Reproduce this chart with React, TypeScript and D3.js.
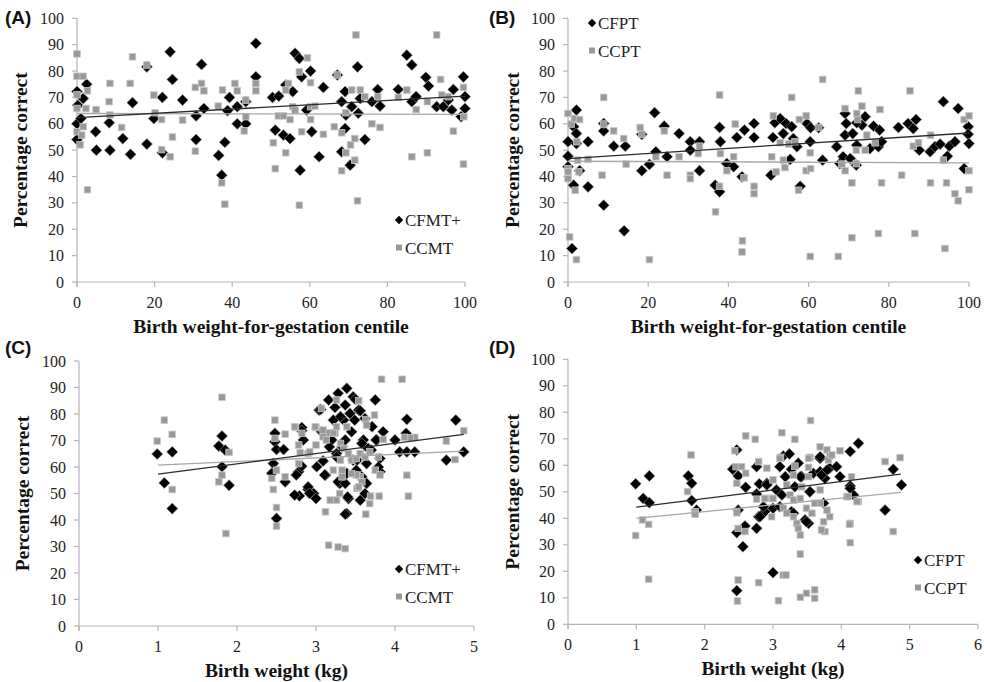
import React from "react";
import * as d3 from "d3";

// ---------- DATA ----------
const yTicks = [0, 10, 20, 30, 40, 50, 60, 70, 80, 90, 100];
const centileTicks = [0, 20, 40, 60, 80, 100];
const weightTicksC = [0, 1, 2, 3, 4, 5];
const weightTicksD = [0, 1, 2, 3, 4, 5, 6];

type P = [number, number];

const A_CFMT: P[] = [[0,72.2],[0.2,67],[0,60],[0,54],[1,62],[2.5,75],[1.6,69.6],[4.8,57],[5,50],[8.5,50],[8.3,60.4],[11.8,54.4],[14.3,68],[13.8,48.4],[18,52.3],[18,81.6],[19.8,62],[22,70],[22,49],[24,87.3],[24.6,76.8],[27.2,69],[30.7,63],[30.7,54],[32.1,82.5],[32.7,65.8],[36.5,48],[37.3,40.5],[38.1,53],[39.3,70],[38.8,65],[41.3,66.5],[41.3,60],[43.5,60],[43.5,68.4],[46.1,90.5],[46.1,77.8],[50.4,70],[51.1,57.6],[52,70.5],[53.2,55.7],[53.8,74.7],[54.9,54.4],[55.6,72.2],[56.2,86.7],[57.3,84.8],[57.5,42.4],[57.9,77.8],[59.2,65.2],[60.2,80],[60.5,57],[62.4,47.5],[63.5,73.8],[67.1,78.5],[68.2,68.4],[68.2,49.4],[69.1,72.2],[69.1,58.2],[69.3,63.3],[70.4,44.3],[70.8,66.5],[72.3,81.6],[72.5,64],[73,69.6],[74.2,54],[76,68.4],[77.5,73],[78.1,66.7],[82.8,73],[85,86],[86.3,82.3],[86.3,68.4],[87.4,70.3],[89.9,77.6],[90.6,74.3],[92.7,66.5],[94.4,66.5],[95.7,69],[96.6,65.2],[97,73],[99,62.7],[99.6,77.8],[100,70.3],[100,65.8]];

const A_CCMT: P[] = [[0,86.5],[0,78],[1.6,78],[0,71],[0,65.8],[0,57],[0.8,52],[1.2,55.7],[1.6,58.9],[2.3,65.8],[2.7,72.5],[2.7,35],[4.9,65.4],[8.5,75.3],[8.3,68.4],[8.5,63.3],[11.5,58.6],[14.3,85.4],[13.7,75.3],[18,82.3],[20.1,64.2],[19.8,70.9],[21.8,61.6],[21.8,50.2],[24,47.5],[24.6,55],[27.2,61.4],[30.5,73.8],[30.5,49.6],[32.1,75.3],[32.7,72.5],[36.4,66.7],[37.5,72.8],[37.3,37.6],[38.1,29.5],[40.7,75.3],[41.3,72.5],[43.5,69],[43.5,62.7],[43.1,57.3],[46.1,75.3],[46.1,72.5],[50.6,52.8],[51.1,43],[51.9,63],[53.2,63],[53.8,72.8],[54.5,75.3],[53.8,49],[54.9,61.6],[55.6,66.5],[56.2,65.2],[57.3,79.7],[57.3,29.1],[57.9,57],[59.4,85],[60.2,75.6],[60.2,66.5],[60.2,61.6],[61.3,66.7],[63.5,56],[66.3,58.9],[67.1,78.5],[68.2,56.6],[68.2,42.2],[69.3,49],[69.3,64.2],[70.5,52],[70.8,72.8],[71.9,93.7],[71.6,54.4],[71.6,46.2],[72.3,30.8],[73,72.8],[74.2,70.3],[76,60],[77.5,70.3],[78.1,58.6],[82.8,70],[85,72.8],[86.3,47.5],[87.4,65.4],[90.3,49],[90.3,68.4],[92.7,93.7],[93.7,76.8],[94,70.9],[97,57.2],[95.7,70.3],[99.6,73.8],[99.6,44.7],[99.7,62.7]];

const B_CFPT: P[] = [[0,53.2],[0,47.7],[0,43.7],[1,12.7],[2.1,65.2],[1.4,58.9],[2.1,56.3],[2.1,52.5],[1.4,36.7],[2.9,42.2],[5,53.2],[5,36.1],[8.9,57.3],[8.9,60.1],[8.9,29.1],[11.4,51.5],[14.3,51.5],[14,19.4],[18.4,42.2],[18.4,56],[20.3,44.6],[21.6,64.2],[21.9,49.4],[24,59.1],[24.7,47.5],[27.7,56.3],[30.5,53.2],[30.5,50],[32.8,53.2],[32.8,42.2],[36.7,36.7],[37.8,34.2],[37.8,58.6],[38,53.2],[39.6,44.9],[41.3,43.7],[42.1,54.8],[43.4,39.9],[44,57.6],[46.4,60.1],[46.4,54.8],[50.6,40.5],[51.1,54.8],[51.6,60.4],[52.9,62],[53.7,56.3],[54.4,60.1],[55.4,46.5],[55.8,58.9],[56.2,54.4],[57.1,51.3],[57.9,36.3],[59.6,60.1],[60.5,58.5],[60.4,53.2],[62.5,58.5],[63.5,46.2],[67,51.3],[67.8,44.9],[68.6,47.5],[69.1,63.9],[69.4,60.1],[69.1,55.7],[70.4,46.8],[71,56.3],[72,51.9],[71.9,44.3],[73.3,59.5],[72,60.4],[74.1,62.7],[75.3,50.6],[76.2,59.1],[77.4,51.3],[77.7,57.6],[78.2,53.2],[82.4,58.6],[84.8,60.1],[86.1,58.2],[86.8,61.6],[87.6,50],[90.3,49.4],[91.5,51.3],[92.8,52.3],[93.6,68.4],[94.6,47.7],[95.1,51.5],[96.5,53.2],[97.3,65.8],[98.8,43],[99.8,58.9],[99.8,56],[100,52.5]];

const B_CCPT: P[] = [[0,63.9],[0,43],[0,39.2],[0,41.8],[0.4,17.1],[0.8,59.9],[1.6,62],[2.1,8.5],[1.8,34.8],[2.2,53.2],[2.4,46.2],[2.9,61.6],[2.7,41.8],[5,46.5],[8.5,40.5],[8.9,70],[8.9,59.9],[11.4,57.3],[13.9,54.4],[14.5,44.7],[18,58.6],[18.4,56],[20.3,8.5],[21.9,47.5],[24,57.3],[24.7,40.5],[27.7,47.5],[30.5,40.5],[30.5,39.2],[32.8,51.5],[32.5,48.7],[36.8,26.6],[37.8,70.9],[37.8,36.3],[38,48.7],[39.6,42.2],[41.7,59.9],[41.3,47.5],[43.5,15.6],[43.4,11.4],[43.9,39.5],[46.4,36.3],[46.4,33.5],[50.8,47.5],[51.2,63],[51.9,41.8],[52.9,52.8],[53.7,46.2],[54.1,43.4],[55,52.3],[55.8,70],[56.6,53.2],[57.7,61.6],[57.5,34.8],[59.4,63],[59.4,42.2],[60.4,49],[60.5,43],[60.4,9.7],[62.5,58.6],[63.5,76.8],[67.4,9.7],[68.3,44.7],[69.1,65.8],[69.1,42.2],[70.8,37.6],[70.8,16.8],[71.9,44.9],[71.9,50],[72,63.9],[72.2,61.6],[72.4,72.5],[73.3,66.7],[74.1,50],[74.5,55.7],[76.6,52.8],[77.8,65.4],[78.2,37.6],[77.4,18.4],[83.2,40.5],[85.3,72.5],[86.1,51.5],[86.5,18.4],[87.4,52.8],[90.4,55.7],[90.4,37.6],[93.6,46.2],[94,12.7],[94.4,37.6],[96.5,33.5],[97.3,30.8],[98.8,61.6],[100,63],[100,42.2],[100,35]];

const C_CFMT: P[] = [[0.99,64.9],[1.08,54],[1.18,65.7],[1.18,44.3],[1.77,67.9],[1.81,71.7],[1.81,60.1],[1.85,66.4],[1.9,53.1],[2.48,72.7],[2.48,69.5],[2.5,66.6],[2.46,61.3],[2.44,57.6],[2.5,40.6],[2.59,66.6],[2.61,54.4],[2.78,58.2],[2.79,49.1],[2.82,74.9],[2.84,70.2],[2.82,60.3],[2.9,51.5],[2.97,50],[3.0,48.1],[3.01,60.1],[3.04,81.5],[3.07,73.3],[3.09,62.3],[3.12,56.9],[3.16,85.3],[3.2,70.2],[3.22,77.7],[3.24,82.5],[3.26,65.1],[3.28,87.8],[3.3,53.8],[3.33,67.6],[3.35,77.7],[3.37,83.4],[3.39,89.7],[3.41,48.1],[3.39,42.4],[3.39,57.6],[3.43,80.2],[3.45,73.3],[3.47,86.5],[3.49,77.7],[3.52,62.6],[3.54,81.5],[3.56,47.5],[3.58,56.3],[3.6,70.2],[3.62,50],[3.64,61.3],[3.66,67],[3.71,75.2],[3.75,85.3],[3.77,70.2],[3.81,63.2],[3.81,58.2],[3.85,73.3],[4.0,70.2],[4.06,65.7],[4.15,78],[4.14,72.7],[4.15,65.7],[4.25,65.7],[4.65,62.6],[4.77,77.7],[4.87,65.7],[3.5,85.5],[3.06,81.7],[3.56,81.2],[3.31,79],[3.62,78.3],[2.82,73.7],[3.11,57],[2.75,57],[2.73,49.4],[2.9,52.5],[2.92,50],[3.28,54.4],[3.37,53.8],[3.4,48.7],[3.37,42.2],[3.64,53.8],[3.76,70.2],[3.7,66.4],[3.26,63.8],[3.47,62.6],[3.51,58.8],[3.79,60],[3.17,67.6],[3.37,70.2],[3.58,68.9],[3.09,72.9]];

const C_CCMT: P[] = [[0.99,69.8],[1.08,77.7],[1.18,72.3],[1.18,51.5],[1.81,86.3],[1.77,54.4],[1.81,56.9],[1.9,65.5],[1.86,34.9],[2.48,77.7],[2.48,70.8],[2.46,51.5],[2.5,44.7],[2.5,37.7],[2.44,55.7],[2.5,58.8],[2.61,72.4],[2.61,56.3],[2.74,74.9],[2.78,68.3],[2.78,61.3],[2.8,65.4],[2.9,65.1],[3.0,74.9],[3.0,68.3],[3.07,82.1],[3.12,43.1],[3.16,30.5],[3.18,47.5],[3.24,72.7],[3.26,85.3],[3.28,29.8],[3.37,29.2],[3.83,93.1],[4.09,93.1],[4.15,56.9],[4.17,49],[4.25,71.2],[4.65,69.8],[4.76,62.8],[4.87,73.7],[4.19,71],[3.8,49],[3.68,46.2],[3.63,42.2],[3.69,49],[3.56,56.3],[3.52,51.9],[2.73,75.2],[2.82,72.7],[2.99,75.2],[3.09,73.9],[3.17,72.9],[3.22,72.9],[3.26,75.2],[3.09,71.4],[3.39,75.2],[3.54,85],[3.63,77.9],[3.64,75.8],[3.74,79.6],[3.85,70.4],[4.12,71.2],[3.26,47.5],[3.3,50],[2.92,65.7],[3.13,70.2],[3.31,68.9],[3.35,67],[3.41,65.1],[3.45,62.6],[3.31,62.6],[3.33,58.8],[3.33,56.3],[3.51,63.2],[3.56,65.1],[3.62,63.8],[3.68,65.7],[3.79,63.8],[3.75,58.8],[3.81,57],[3.51,57],[3.45,57.5],[3.58,54.4],[3.54,52.5],[3.22,58.8]];

const D_CFPT: P[] = [[0.99,53],[1.1,47.5],[1.19,56],[1.19,45.9],[1.76,56],[1.81,53.2],[1.81,46.7],[1.88,43.1],[2.47,65.8],[2.41,58.5],[2.49,56],[2.49,43.1],[2.47,34.6],[2.47,12.7],[2.56,29.3],[2.59,37.1],[2.6,51.7],[2.76,59.5],[2.76,36.2],[2.79,40.6],[2.8,53],[2.76,49.2],[2.91,53.2],[2.88,42.5],[3.0,19.5],[3.0,43.8],[3.05,50.7],[3.1,59.5],[3.15,63.5],[3.13,48.8],[3.18,55.7],[3.24,64.3],[3.27,58.5],[3.27,42.5],[3.32,51.9],[3.37,60.8],[3.42,55.7],[3.47,39.4],[3.52,38.1],[3.54,50.1],[3.59,57],[3.69,62.6],[3.69,57.6],[3.74,45.7],[3.76,55.1],[3.83,58.9],[3.93,59.5],[3.98,55.7],[4.13,52.2],[4.13,65.2],[4.18,48.8],[4.25,68.3],[4.64,43.1],[4.76,58.5],[4.88,52.6],[2.91,52.6],[2.81,40.6],[3.69,63.2],[4.13,51.3],[3.4,55.7],[3.54,50],[3.3,41.9],[3.49,38.7],[3.79,58.2],[3.71,56.3],[3.1,44.4],[2.86,44.4]];

const D_CCPT: P[] = [[0.99,33.5],[1.09,39.4],[1.18,37.7],[1.18,17],[1.75,50.1],[1.8,63.9],[1.86,42.5],[1.86,41.5],[2.44,65.5],[2.47,53.2],[2.47,42.1],[2.49,36.2],[2.49,16.7],[2.48,8.8],[2.46,59.5],[2.54,59.5],[2.6,71.1],[2.6,57],[2.59,35],[2.74,69.8],[2.79,61.4],[2.79,15.7],[2.76,47.2],[2.91,58.9],[2.91,47.5],[2.98,40.6],[2.99,47.5],[3.11,63],[3.13,72.3],[3.15,18.6],[3.19,18.6],[3.08,8.9],[3.32,69.8],[3.32,59.7],[3.4,10.2],[3.4,26.5],[3.4,33.7],[3.49,11.7],[3.54,63],[3.55,76.9],[3.61,13],[3.61,9.8],[3.69,67],[3.79,65.8],[3.83,63.5],[3.76,35],[3.98,65.5],[4.08,48.2],[4.13,38.1],[4.13,30.8],[4.15,55.7],[4.25,46.3],[4.64,61.4],[4.76,35],[4.86,62.9],[3.1,62.6],[3.52,62.6],[3.52,59.2],[3.3,56.3],[3.52,55.7],[3.81,62],[3.86,63.9],[3.0,54.5],[3.2,52.6],[3.42,51.9],[3.25,48.8],[2.88,47.5],[3.0,47.5],[3.3,46.9],[3.4,47.5],[3.69,50.7],[3.69,45.7],[3.61,45.7],[3.79,43.1],[3.83,40.6],[3.74,38.7],[3.71,35.6],[4.1,48.2],[4.23,46.3],[4.12,37.7],[3.15,43.8],[3.2,41.9],[3.3,40.6],[3.35,38.1],[3.37,36.2],[3.49,43.8],[3.57,41.9]];

// Trend lines: [x1, y1, x2, y2]
const A_trendFace = [0, 62.3, 100, 70.5];
const A_trendCar = [0, 63.9, 100, 63.6];
const B_trendFace = [0, 46.8, 100, 56.5];
const B_trendCar = [0, 45.8, 100, 45.2];
const C_trendFace = [1, 57.3, 4.87, 72.3];
const C_trendCar = [1, 60.7, 4.87, 66];
const D_trendFace = [1, 44.2, 4.87, 56.7];
const D_trendCar = [1, 40, 4.87, 49.8];

const labelsAC = ["CFMT+", "CCMT"];
const labelsBD = ["CFPT", "CCPT"];

// ---------- RENDER ----------
const SERIF = "'Liberation Serif', 'Times New Roman', serif";
const SANS = "'Liberation Sans', Arial, sans-serif";

type PanelProps = {
  tag: string;
  left: number; right: number; top: number; bottom: number;
  xMax: number; xTicks: number[];
  xTitle: string;
  face: P[]; car: P[];
  trendFace: number[]; trendCar: number[];
  labels: string[];
  legendX: number; legendY: number;
  tagX: number; tagY: number;
  yTitleX: number;
};

const diamond = (r: number) => `M0,${-r}L${r},0L0,${r}L${-r},0Z`;

function Panel(p: PanelProps) {
  const x = d3.scaleLinear().domain([0, p.xMax]).range([p.left, p.right]);
  const y = d3.scaleLinear().domain([0, 100]).range([p.bottom, p.top]);
  const line = d3.line<number[]>().x((d) => x(d[0])).y((d) => y(d[1]));
  const sq = 6.6;
  return (
    <g>
      <text x={p.tagX} y={p.tagY} fontFamily={SANS} fontWeight="bold" fontSize={19} fill="#111">{p.tag}</text>
      {/* axes */}
      <line x1={p.left} x2={p.left} y1={y(100)} y2={p.bottom + 5} stroke="#b5b5b5" strokeWidth={1.2} />
      <line x1={p.left} x2={p.right} y1={p.bottom} y2={p.bottom} stroke="#b5b5b5" strokeWidth={1.2} />
      {yTicks.map((t) => (
        <g key={"y" + t}>
          <line x1={p.left - 5} x2={p.left} y1={y(t)} y2={y(t)} stroke="#b5b5b5" strokeWidth={1.2} />
          <text x={p.left - 13} y={y(t)} dy="0.35em" textAnchor="end" fontFamily={SERIF} fontSize={16} fill="#222">{t}</text>
        </g>
      ))}
      {p.xTicks.map((t) => (
        <g key={"x" + t}>
          <line x1={x(t)} x2={x(t)} y1={p.bottom} y2={p.bottom + 5} stroke="#b5b5b5" strokeWidth={1.2} />
          <text x={x(t)} y={p.bottom + 26} textAnchor="middle" fontFamily={SERIF} fontSize={16} fill="#222">{t}</text>
        </g>
      ))}
      <text x={(p.left + p.right) / 2} y={p.bottom + 51} textAnchor="middle" fontFamily={SERIF} fontWeight="bold" fontSize={19.5} fill="#111">{p.xTitle}</text>
      <text transform={`translate(${p.yTitleX},${(p.top + p.bottom) / 2}) rotate(-90)`} textAnchor="middle" dy="0.33em" fontFamily={SERIF} fontWeight="bold" fontSize={19.5} fill="#111">Percentage correct</text>
      {/* markers */}
      {p.face.map((d, i) => (
        <path key={"f" + i} d={diamond(5.6)} transform={`translate(${x(d[0])},${y(d[1])})`} fill="#000" stroke="#9a9a9a" strokeWidth={0.6} />
      ))}
      {p.car.map((d, i) => (
        <rect key={"c" + i} x={x(d[0]) - sq / 2} y={y(d[1]) - sq / 2} width={sq} height={sq} fill="#999" stroke="#c8c8c8" strokeWidth={0.8} />
      ))}
      {/* trend lines */}
      <path d={line([[p.trendCar[0], p.trendCar[1]], [p.trendCar[2], p.trendCar[3]]]) || ""} stroke="#a8a8a8" strokeWidth={1.3} fill="none" />
      <path d={line([[p.trendFace[0], p.trendFace[1]], [p.trendFace[2], p.trendFace[3]]]) || ""} stroke="#2a2a2a" strokeWidth={1.3} fill="none" />
      {/* legend */}
      <path d={diamond(4.2)} transform={`translate(${p.legendX},${p.legendY})`} fill="#000" />
      <text x={p.legendX + 6} y={p.legendY + 6} fontFamily={SERIF} fontSize={17} fill="#222">{p.labels[0]}</text>
      <rect x={p.legendX - 3} y={p.legendY + 27.5 - 3} width={6} height={6} fill="#999" />
      <text x={p.legendX + 6} y={p.legendY + 33.5} fontFamily={SERIF} fontSize={17} fill="#222">{p.labels[1]}</text>
    </g>
  );
}

export default function App() {
  return (
    <svg width={984} height={682} style={{ position: "absolute", left: 0, top: 0, background: "#fff" }}>
      <rect width={984} height={682} fill="#fff" />
      <Panel tag="(A)" left={77} right={465} top={18.3} bottom={282} xMax={100} xTicks={centileTicks}
        xTitle="Birth weight-for-gestation  centile" face={A_CFMT} car={A_CCMT}
        trendFace={A_trendFace} trendCar={A_trendCar} labels={labelsAC}
        legendX={399} legendY={220} tagX={5} tagY={24} yTitleX={21} />
      <Panel tag="(B)" left={568} right={969} top={18.3} bottom={282} xMax={100} xTicks={centileTicks}
        xTitle="Birth weight-for-gestation  centile" face={B_CFPT} car={B_CCPT}
        trendFace={B_trendFace} trendCar={B_trendCar} labels={labelsBD}
        legendX={592} legendY={23} tagX={489} tagY={24} yTitleX={513} />
      <Panel tag="(C)" left={79} right={474} top={361} bottom={626} xMax={5} xTicks={weightTicksC}
        xTitle="Birth weight (kg)" face={C_CFMT} car={C_CCMT}
        trendFace={C_trendFace} trendCar={C_trendCar} labels={labelsAC}
        legendX={399} legendY={569} tagX={5} tagY={354} yTitleX={23} />
      <Panel tag="(D)" left={568} right={978} top={359.3} bottom={624.3} xMax={6} xTicks={weightTicksD}
        xTitle="Birth weight (kg)" face={D_CFPT} car={D_CCPT}
        trendFace={D_trendFace} trendCar={D_trendCar} labels={labelsBD}
        legendX={918} legendY={560} tagX={489} tagY={354} yTitleX={513} />
    </svg>
  );
}
